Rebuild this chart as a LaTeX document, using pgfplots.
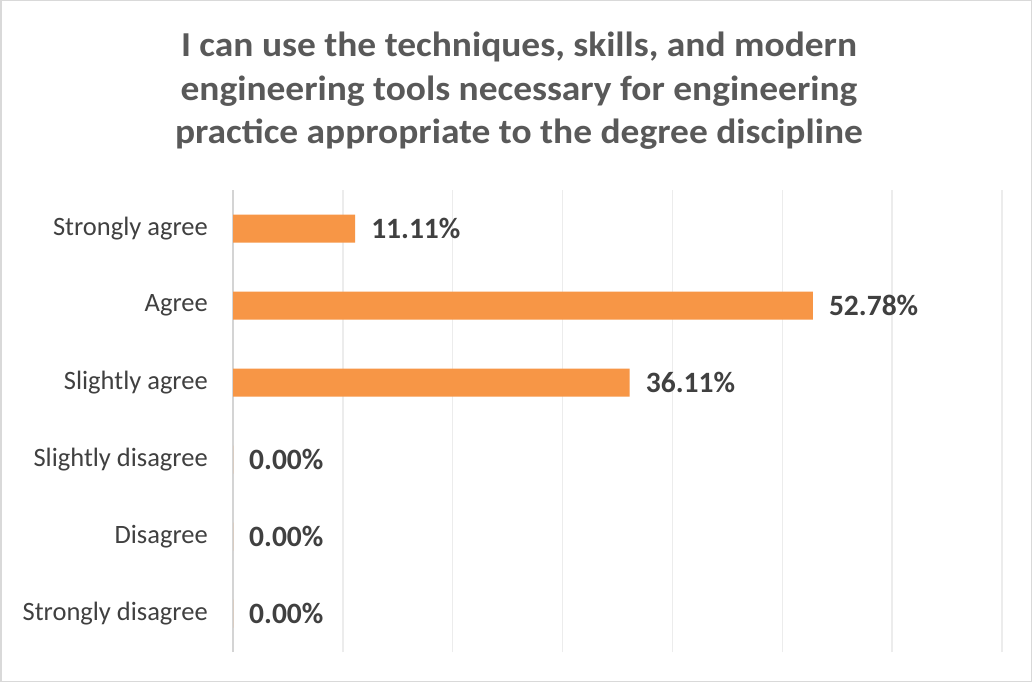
\documentclass[border=0pt]{standalone}
\usepackage{pgfplots}
\pgfplotsset{compat=1.18}
\usepackage{fontspec}
\setmainfont{Carlito}
\definecolor{barorange}{RGB}{247,150,70}
\definecolor{titlegray}{RGB}{89,89,89}
\definecolor{labelgray}{RGB}{64,64,64}
\definecolor{gridgray}{RGB}{236,236,236}
\definecolor{axisgray}{RGB}{212,212,212}
\definecolor{framegray}{RGB}{217,217,217}
\pgfplotstableread[col sep=comma]{
y,x,lab
5,11.11,11.11\%
4,52.78,52.78\%
3,36.11,36.11\%
2,0,0.00\%
1,0,0.00\%
0,0,0.00\%
}\datatable
\begin{document}
\begin{tikzpicture}
\draw[framegray, line width=1.5bp, fill=white] (0.75bp,0.75bp) rectangle (1031.25bp,681.25bp);
\node[align=center, xscale=1.07, font=\fontsize{35bp}{43.5bp}\selectfont\bfseries, text=titlegray] at (519bp,591bp)
 {I can use the techniques, skills, and modern\\engineering tools necessary for engineering\\practice appropriate to the degree discipline};
\begin{axis}[
  at={(233bp,30bp)}, anchor=south west,
  scale only axis, width=769bp, height=462bp,
  xbar, bar width=28bp,
  xmin=0, xmax=70, ymin=-0.5, ymax=5.5,
  xtick={10,20,...,70}, xticklabels={},
  xmajorgrids, grid style={gridgray, line width=1.5bp},
  extra x ticks={0}, extra x tick labels={},
  extra x tick style={grid style={axisgray, line width=1.5bp}},
  axis line style={draw=none},
  major tick length=0pt,
  ytick={0,...,5},
  yticklabels={Strongly disagree,Disagree,Slightly disagree,Slightly agree,Agree,Strongly agree},
  yticklabel style={font=\fontsize{26.5bp}{30bp}\selectfont, text=labelgray, inner sep=0pt, anchor=east, xshift=-25bp},
  point meta=explicit symbolic,
  nodes near coords,
  nodes near coords style={anchor=west, inner sep=0pt, xshift=16bp, font=\fontsize{29.5bp}{32bp}\selectfont\bfseries, text=labelgray},
  clip=false,
]
\addplot[fill=barorange, draw=none] table[x=x, y=y, meta=lab] {\datatable};
\end{axis}
\end{tikzpicture}
\end{document}
